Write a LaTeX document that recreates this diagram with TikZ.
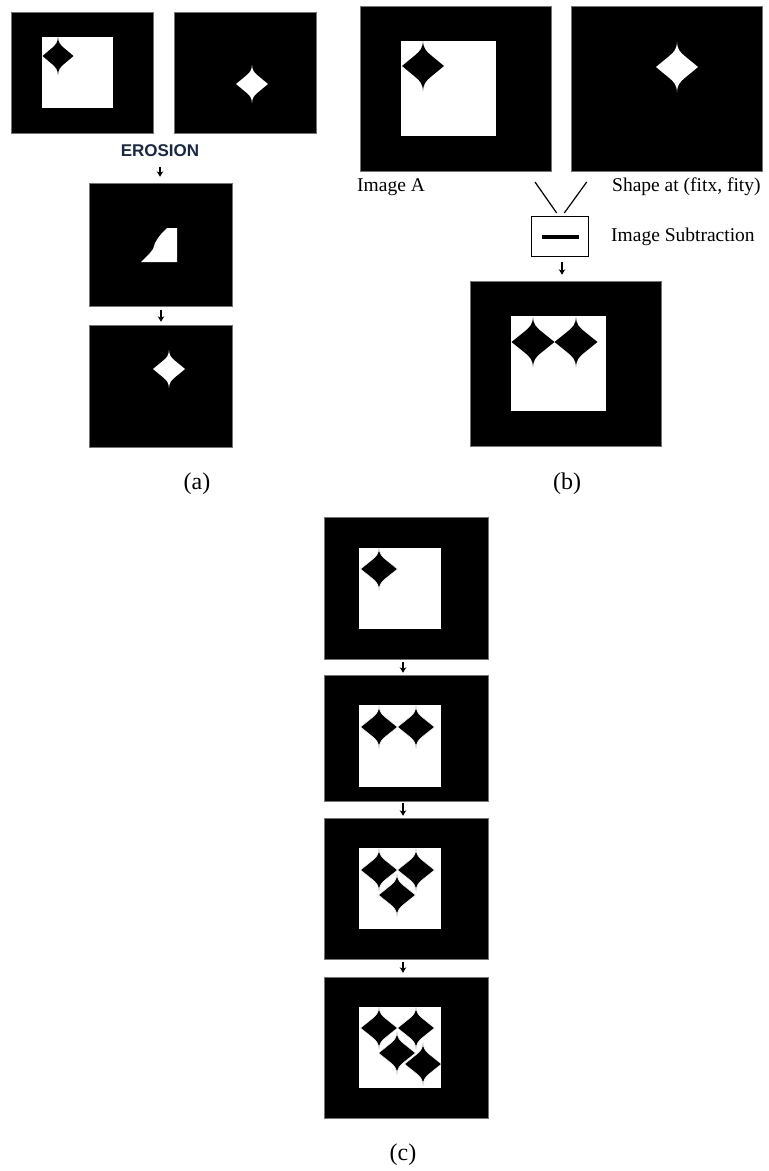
\documentclass[tikz,border=0pt]{standalone}
\usepackage{fontspec}
\setmainfont{Liberation Serif}
\newfontfamily\headsans{Liberation Sans}
\usetikzlibrary{arrows.meta}

\definecolor{headnavy}{RGB}{28,40,65}

\tikzset{
  frame/.style={fill=black, draw=black!55, line width=0.5pt, inner sep=0pt},
  downarr/.style={line width=1.2pt, -{Stealth[length=5.5pt,width=6.5pt]}},
  vee/.style={line width=1.2pt},
  caption/.style={font=\fontsize{24}{24}\selectfont, inner sep=0pt},
  sidetext/.style={font=\fontsize{19.5}{19.5}\selectfont, inner sep=0pt, anchor=west},
  % four-pointed star: concave spikes at top and bottom, blunt side points,
  % unit half-width and half-height
  pics/spark/.style={code={
    \path[pic actions]
      (0,-1) .. controls (0.02,-0.7) and (0.15,-0.6) .. (0.35,-0.45) -- (1,0)
             -- (0.35,0.45) .. controls (0.15,0.6) and (0.02,0.7) .. (0,1)
             .. controls (-0.02,0.7) and (-0.15,0.6) .. (-0.35,0.45) -- (-1,0)
             -- (-0.35,-0.45) .. controls (-0.15,-0.6) and (-0.02,-0.7) .. cycle;
  }},
  dark/.style={fill=black, draw=white, line width=0.5pt},
  light/.style={fill=white}
}

\begin{document}
\begin{tikzpicture}[x=1pt, y=-1pt]
\useasboundingbox (0,0) rectangle (769,1171);
\fill[white] (0,0) rectangle (769,1171);

% ---------------- (a) erosion ----------------
\node[frame, minimum width=142pt, minimum height=121pt] (a1) at (82,72.5) {};
\fill[white] (42,37) rectangle (113,108);
\pic[fill=black, xscale=15.5, yscale=19] at (58,56) {spark};

\node[frame, minimum width=142pt, minimum height=121pt] (a2) at (245,72.5) {};
\pic[light, xscale=16, yscale=19] at (252,84) {spark};

\node[font=\headsans\bfseries\fontsize{17}{17}\selectfont, text=headnavy,
      inner sep=0pt, anchor=south] (ero) at (160,157) {EROSION};

\node[frame, minimum width=143pt, minimum height=123pt] (a3) at (160.5,244.5) {};
\fill[white] (167,228) -- (177,228) -- (177,262) -- (141,262) -- (150,253)
  -- (153,249) -- (155,243) -- (158,238) -- (162,233) -- cycle;

\node[frame, minimum width=143pt, minimum height=122pt] (a4) at (160.5,386) {};
\pic[light, xscale=16, yscale=19] at (169,369) {spark};

\draw[downarr, shorten <=10pt, shorten >=6pt] (ero.south) -- (ero.south |- a3.north);
\coordinate (aax) at (161,0);
\draw[downarr, shorten <=4pt, shorten >=3pt] (a3.south -| aax) -- (a4.north -| aax);

\node[caption] (capa) at (197,484) {(a)};

% ---------------- (b) subtraction ----------------
\node[frame, minimum width=191pt, minimum height=165pt] (b1) at (455.5,88.5) {};
\fill[white] (401,41) rectangle (496,136);
\pic[fill=black, xscale=21, yscale=25] at (423,66) {spark};

\node[frame, minimum width=191pt, minimum height=165pt] (b2) at (666.5,88.5) {};
\pic[light, xscale=21, yscale=25] at (677,67) {spark};

\node[sidetext] (lbla) at (357,187) {Image A};
\node[sidetext] (lblb) at (612,187) {Shape at (fitx, fity)};

\coordinate (va1) at (535,182);
\coordinate (va2) at (556.7,213);
\coordinate (vb1) at (586.7,182);
\coordinate (vb2) at (564.3,213);
\draw[vee] (va1) -- (va2);
\draw[vee] (vb1) -- (vb2);

\node[draw, line width=0.8pt, minimum width=57pt, minimum height=40pt, inner sep=0pt]
  (sub) at (560,236) {};
\draw[line width=3.2pt] (542,237) -- (579,237);
\node[sidetext] (lblsub) at (611,237) {Image Subtraction};

\node[frame, minimum width=191pt, minimum height=165pt] (b3) at (565.5,363.5) {};
\fill[white] (511,316) rectangle (606,411);
\pic[fill=black, xscale=21.5, yscale=25] at (533,342) {spark};
\pic[fill=black, xscale=21.5, yscale=25] at (576,342) {spark};

\coordinate (bax) at (562,0);
\draw[downarr, shorten <=6pt, shorten >=6pt] (sub.south -| bax) -- (b3.north -| bax);

\node[caption] (capb) at (567,484) {(b)};

% ---------------- (c) repeated placement ----------------
\node[frame, minimum width=164pt, minimum height=142pt] (c1) at (406,588) {};
\fill[white] (359,548) rectangle (441,629);
\begin{scope}
  \clip (359,548) rectangle (441,629);
  \pic[dark, xscale=18.5, yscale=21.5] at (379,569) {spark};
\end{scope}

\node[frame, minimum width=164pt, minimum height=126pt] (c2) at (406,738) {};
\fill[white] (359,705) rectangle (441,787);
\begin{scope}
  \clip (359,705) rectangle (441,787);
  \pic[dark, xscale=18.5, yscale=21.5] at (379,727) {spark};
  \pic[dark, xscale=18.5, yscale=21.5] at (416,727) {spark};
\end{scope}

\node[frame, minimum width=164pt, minimum height=141pt] (c3) at (406,888.5) {};
\fill[white] (359,848) rectangle (441,929);
\begin{scope}
  \clip (359,848) rectangle (441,929);
  \pic[dark, xscale=18.5, yscale=21.5] at (379,870) {spark};
  \pic[dark, xscale=18.5, yscale=21.5] at (416,870) {spark};
  \pic[dark, xscale=18.5, yscale=21.5] at (397,895) {spark};
\end{scope}

\node[frame, minimum width=164pt, minimum height=141pt] (c4) at (406,1047.5) {};
\fill[white] (359,1007) rectangle (441,1088);
\begin{scope}
  \clip (359,1007) rectangle (441,1088);
  \pic[dark, xscale=18.5, yscale=21.5] at (379,1028) {spark};
  \pic[dark, xscale=18.5, yscale=21.5] at (416,1028) {spark};
  \pic[dark, xscale=18.5, yscale=21.5] at (397,1053) {spark};
  \pic[dark, xscale=18.5, yscale=21.5] at (423,1064) {spark};
\end{scope}

\coordinate (cax) at (403,0);
\draw[downarr, shorten <=3pt, shorten >=2pt] (c1.south -| cax) -- (c2.north -| cax);
\draw[downarr, shorten <=2pt, shorten >=2pt] (c2.south -| cax) -- (c3.north -| cax);
\draw[downarr, shorten <=3pt, shorten >=4pt] (c3.south -| cax) -- (c4.north -| cax);

\node[caption] (capc) at (403,1155) {(c)};
\end{tikzpicture}
\end{document}
